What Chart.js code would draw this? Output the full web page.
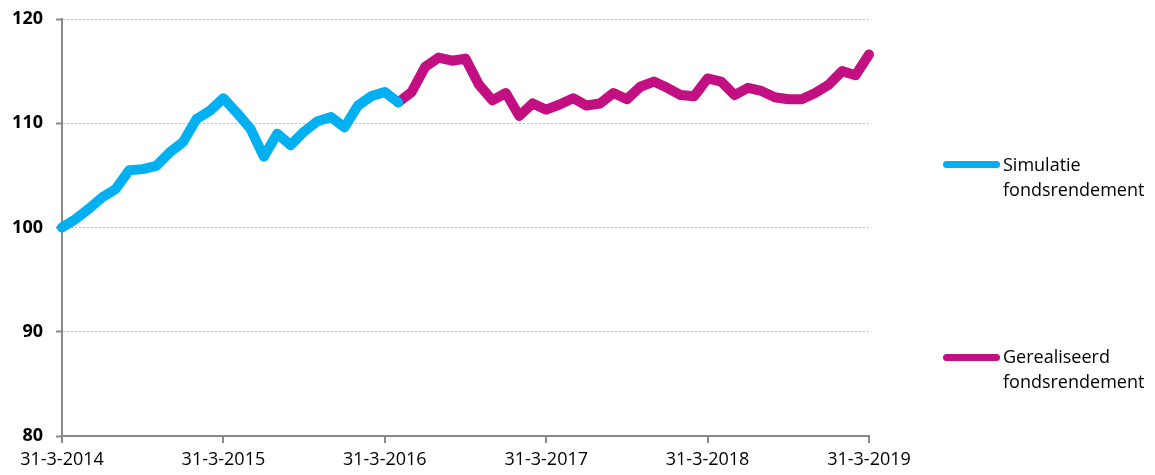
<!DOCTYPE html>
<html>
<head>
<meta charset="utf-8">
<script src="https://cdn.jsdelivr.net/npm/chart.js@4/dist/chart.umd.min.js"></script>
<style>
  html, body { margin: 0; padding: 0; background: #fff; }
  #wrap { position: relative; width: 1155px; height: 475px; overflow: hidden; }
  #c { position: absolute; left: 0; top: 0; }
  .lg-line { position: absolute; width: 57px; height: 7px; border-radius: 4px; }
  .lg-text { position: absolute; font-family: "Open Sans", sans-serif; font-size: 18px; line-height: 25px; color: #000; }
</style>
</head>
<body>
<div id="wrap">
  <canvas id="c" width="1155" height="475"></canvas>
  <div class="lg-line" style="left:943px; top:161px; background:#00B0F0;"></div>
  <div class="lg-text" style="left:1003px; top:152px;">Simulatie<br>fondsrendement</div>
  <div class="lg-line" style="left:943px; top:354px; background:#C20F82;"></div>
  <div class="lg-text" style="left:1003px; top:344px;">Gerealiseerd<br>fondsrendement</div>
</div>
<script>
// x tick labels (one every 12 months)
const tickLabels = ['31-3-2014', '31-3-2015', '31-3-2016', '31-3-2017', '31-3-2018', '31-3-2019'];
const yTicks = [80, 90, 100, 110, 120];

// Monthly index values, month 0 = 31-3-2014
const simulatie = [
  100.0, 100.8, 101.8, 102.9, 103.7, 105.5, 105.6, 105.9, 107.2, 108.2,
  110.4, 111.2, 112.4, 111.0, 109.5, 106.8, 109.0, 107.9, 109.2, 110.2,
  110.6, 109.6, 111.7, 112.6, 113.0, 112.0
];
const gerealiseerdStart = 25; // month index of first realised value
const gerealiseerd = [
  112.0, 113.0, 115.4, 116.3, 116.0, 116.2, 113.7, 112.2, 112.9, 110.7,
  111.9, 111.3, 111.8, 112.4, 111.7, 111.9, 112.9, 112.3, 113.5, 114.0,
  113.4, 112.7, 112.6, 114.3, 114.0, 112.7, 113.4, 113.1, 112.5, 112.3,
  112.3, 112.9, 113.7, 115.0, 114.6, 116.6
];
const seriesNames = ['Simulatie fondsrendement', 'Gerealiseerd fondsrendement'];

const simPts = simulatie.map((v, i) => ({ x: i, y: v }));
const gerPts = gerealiseerd.map((v, i) => ({ x: gerealiseerdStart + i, y: v }));

const axisGray = '#898989';
new Chart(document.getElementById('c'), {
  type: 'line',
  data: {
    datasets: [
      { label: seriesNames[0], data: simPts, borderColor: '#00B0F0', backgroundColor: '#00B0F0', clip: false,
        borderWidth: 10, pointRadius: 0, tension: 0, borderJoinStyle: 'round', borderCapStyle: 'round' },
      { label: seriesNames[1], data: gerPts, borderColor: '#C20F82', backgroundColor: '#C20F82', clip: false,
        borderWidth: 10, pointRadius: 0, tension: 0, borderJoinStyle: 'round', borderCapStyle: 'round' }
    ]
  },
  options: {
    responsive: false,
    animation: false,
    layout: { padding: { top: 19, right: 286, left: 0, bottom: 0 } },
    plugins: { legend: { display: false }, tooltip: { enabled: false } },
    scales: {
      x: {
        type: 'linear', min: 0, max: (tickLabels.length - 1) * 12,
        afterFit: s => { s.height = 39; s.paddingLeft = 0; s.paddingRight = 0; },
        ticks: {
          stepSize: 12, autoSkip: false, maxRotation: 0, padding: 6,
          color: '#000', font: { family: '"Open Sans", sans-serif', size: 18 },
          callback: v => tickLabels[v / 12]
        },
        grid: { drawOnChartArea: false, drawTicks: true, tickLength: 7, tickColor: axisGray, lineWidth: 2 },
        border: { display: true, color: axisGray, width: 2 }
      },
      y: {
        min: yTicks[0], max: yTicks[yTicks.length - 1],
        afterFit: s => { s.width = 62; s.paddingTop = 0; s.paddingBottom = 0; },
        afterBuildTicks: s => { s.ticks = yTicks.map(v => ({ value: v })); },
        ticks: {
          padding: 13, color: '#000',
          font: { family: '"Open Sans", sans-serif', size: 18, weight: 'bold' }
        },
        grid: { color: '#bdbdbd', lineWidth: 1, drawTicks: true, tickLength: 6,
                tickColor: axisGray, tickBorderDash: [], tickWidth: 2 },
        border: { display: true, color: axisGray, width: 2, dash: [2, 2] }
      }
    }
  }
});
</script>
</body>
</html>
